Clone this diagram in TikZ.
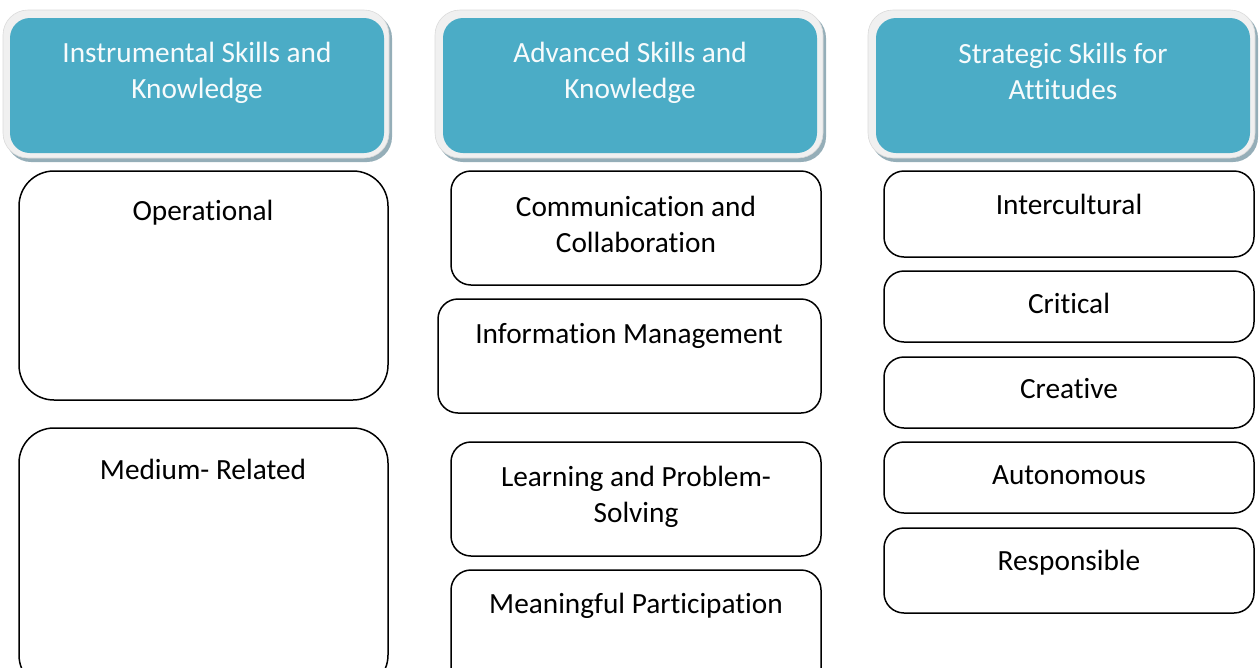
\documentclass[tikz,border=0pt]{standalone}
\usepackage{fontspec}
\setmainfont{Carlito}[Ligatures=NoCommon]
\definecolor{teal1}{HTML}{4BACC6}
\definecolor{rimgray}{HTML}{F0F0F0}
\definecolor{rimedge}{HTML}{DADADA}
\definecolor{shadowc}{HTML}{95AEB8}
\definecolor{headtxt}{HTML}{F7FBFC}
\tikzset{
  hdrshadow/.style={fill=shadowc, rounded corners=25pt},
  hdrrim/.style={fill=rimgray, draw=rimedge, line width=0.6pt, rounded corners=25pt},
  hdrfill/.style={fill=teal1, rounded corners=20pt},
  hdrtext/.style={text=headtxt, align=center, font=\fontsize{29.3}{36}\selectfont, inner sep=0pt},
  skillbox/.style={draw=black, line width=1.5pt, fill=white},
  bigr/.style={rounded corners=35pt},
  smallr/.style={rounded corners=20pt},
  skilltext/.style={text=black, align=center, font=\fontsize{29.3}{36}\selectfont, inner sep=0pt}
}
\begin{document}
\begin{tikzpicture}[x=1pt,y=-1pt]
\useasboundingbox (0,0) rectangle (1260,667);
% headers
\foreach \xa/\xb/\ia/\ib in {3/389/10/384, 435/823/443/817, 868/1255/876/1250}{
  \fill[hdrshadow] (\xa+3,13) rectangle (\xb+3,162);
  \filldraw[hdrrim] (\xa,10) rectangle (\xb,158);
  \fill[hdrfill] (\ia,18) rectangle (\ib,153);
}
\node[hdrtext] (h1) at (197,73) {Instrumental Skills and\\Knowledge};
\node[hdrtext] (h2) at (630,73) {Advanced Skills and\\Knowledge};
\node[hdrtext] (h3) at (1063,71) {Strategic Skills for\\Attitudes};
% column 1
\draw[skillbox,bigr] (19,171) rectangle (388,400);
\node[skilltext] (op) at (203,213) {Operational};
\draw[skillbox,bigr] (19,428) rectangle (388,690);
\node[skilltext] (med) at (203,469) {Medium- Related};
% column 2
\draw[skillbox,smallr] (451,171) rectangle (821,285);
\node[skilltext] (com) at (636,224) {Communication and\\Collaboration};
\draw[skillbox,smallr] (438,299) rectangle (821,413);
\node[skilltext] (inf) at (629,336) {Information Management};
\draw[skillbox,smallr] (451,442) rectangle (821,556);
\node[skilltext] (lrn) at (636,497) {Learning and Problem-\\Solving};
\draw[skillbox,smallr] (451,570) rectangle (821,690);
\node[skilltext] (mp) at (636,606) {Meaningful Participation};
% column 3
\draw[skillbox,smallr] (884,171) rectangle (1254,257);
\node[skilltext] (ic) at (1069,204) {Intercultural};
\draw[skillbox,smallr] (884,271) rectangle (1254,342);
\node[skilltext] (cr) at (1069,303) {Critical};
\draw[skillbox,smallr] (884,357) rectangle (1254,428);
\node[skilltext] (cre) at (1069,389) {Creative};
\draw[skillbox,smallr] (884,442) rectangle (1254,513);
\node[skilltext] (aut) at (1069,475) {Autonomous};
\draw[skillbox,smallr] (884,528) rectangle (1254,613);
\node[skilltext] (res) at (1069,563) {Responsible};
\end{tikzpicture}
\end{document}
